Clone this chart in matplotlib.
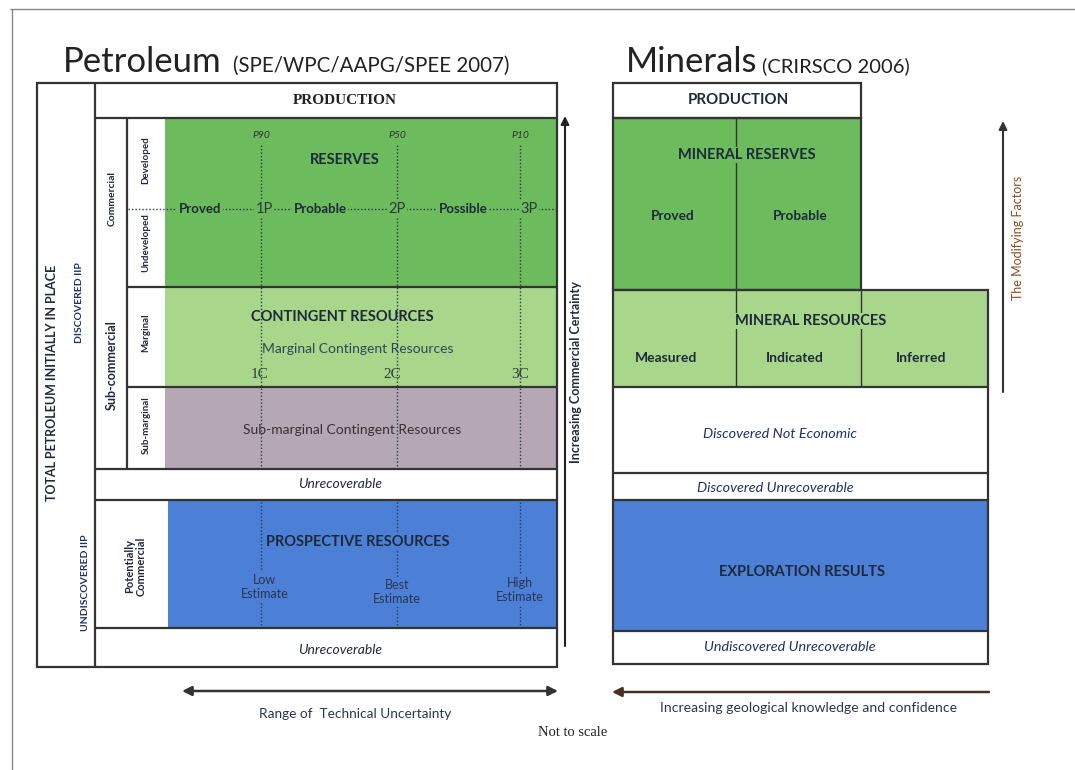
import matplotlib.pyplot as plt
from matplotlib.patches import Rectangle

# fonts: Lato is the closest installed match to the Calibri look of the scan
plt.rcParams['font.family'] = ['Lato', 'DejaVu Sans']
SERIF = ['Liberation Serif', 'DejaVu Serif']

# ---- content ----
petro_title = "Petroleum"
petro_source = "(SPE/WPC/AAPG/SPEE 2007)"
minerals_title = "Minerals"
minerals_source = "(CRIRSCO 2006)"

prob_levels = ["P90", "P50", "P10"]
reserve_classes = ["Proved", "Probable", "Possible"]
reserve_cum = ["1P", "2P", "3P"]
contingent_cum = ["1C", "2C", "3C"]
prospective_est = ["Low\nEstimate", "Best\nEstimate", "High\nEstimate"]

petro_side_labels = ["Developed", "Undeveloped", "Marginal", "Sub-marginal"]
petro_group_labels = ["Commercial", "Sub-commercial"]

mineral_reserve_cats = ["Proved", "Probable"]
mineral_resource_cats = ["Measured", "Indicated", "Inferred"]

# ---- colours ----
GREEN = "#6cbb5c"
LIGHT_GREEN = "#a8d68a"
MAUVE = "#b5a8b4"
BLUE = "#4c7fd6"
LINE = "#333333"
INK = "#1e2a3a"
NAVY = "#1f3264"

fig = plt.figure(figsize=(10.75, 7.7), dpi=100)
ax = fig.add_axes([0, 0, 1, 1])
ax.set_xlim(0, 1075)
ax.set_ylim(770, 0)
ax.axis('off')


def box(x0, y0, x1, y1, fc='none', ec='none', lw=1.6, z=1):
    ax.add_patch(Rectangle((x0, y0), x1 - x0, y1 - y0, facecolor=fc,
                           edgecolor=ec, linewidth=lw, zorder=z))


def hline(y, x0, x1, **kw):
    ax.plot([x0, x1], [y, y], color=kw.pop('color', LINE), lw=kw.pop('lw', 1.6),
            zorder=kw.pop('zorder', 4), solid_capstyle='butt', **kw)


def vline(x, y0, y1, **kw):
    ax.plot([x, x], [y0, y1], color=kw.pop('color', LINE), lw=kw.pop('lw', 1.6),
            zorder=kw.pop('zorder', 4), solid_capstyle='butt', **kw)


def label(x, y, s, size=10, mask=None, **kw):
    kw.setdefault('color', INK)
    if mask is not None:
        kw['bbox'] = dict(facecolor=mask, edgecolor='none', pad=1.0)
    ax.text(x, y, s, fontsize=size, ha=kw.pop('ha', 'center'),
            va=kw.pop('va', 'center'), zorder=5, **kw)


# page frame of the scan
hline(9, 10, 1075, color='#888888', lw=1.0)
vline(12, 9, 770, color='#888888', lw=1.0)

# ================= Petroleum =================
label(63, 62, petro_title, size=25, ha='left', color='#222222')
label(233, 66, petro_source, size=14.8, ha='left', color='#222222')

# coloured blocks
box(165, 118, 557, 287, fc=GREEN)
box(165, 287, 557, 387, fc=LIGHT_GREEN)
box(165, 387, 557, 469, fc=MAUVE)
box(168, 500, 557, 628, fc=BLUE)

# frame lines
box(37, 83, 557, 667, ec=LINE, z=4)
vline(95, 83, 667)
hline(118, 95, 557)
vline(127, 118, 469)
hline(287, 127, 557)
hline(387, 127, 557)
hline(469, 95, 557)
hline(500, 95, 557)
hline(628, 95, 557)

label(345, 101, "PRODUCTION", size=11, weight='bold', family=SERIF, color='#222222')

# vertical uncertainty guides
guide_x = [261, 397, 520]
for gx, p in zip(guide_x, prob_levels):
    label(gx, 135, p, size=7.5, style='italic', color='#333333')
    vline(gx, 145, 469, lw=1.0, ls=(0, (1, 1.5)), color='#2b3a4a', zorder=2)
    vline(gx, 502, 628, lw=1.0, ls=(0, (1, 1.5)), color='#2b3a4a', zorder=2)

label(345, 160, "RESERVES", size=10.5, weight='bold')

# proved / probable / possible line
hline(209, 128, 557, lw=1.0, ls=(0, (1, 1.5)), color='#2b3a4a', zorder=2)
cls_x = [200, 320, 463]
cum_x = [264, 397, 529]
for cx, c in zip(cls_x, reserve_classes):
    label(cx, 209, c, size=9.5, weight='bold', mask=GREEN)
for cx, c in zip(cum_x, reserve_cum):
    label(cx, 209, c, size=10.5, mask=GREEN, color='#2a3a40')

label(342, 317, "CONTINGENT RESOURCES", size=10.5, weight='bold')
label(358, 349, "Marginal Contingent Resources", size=10, color='#2a4a5a')
c_x = [260, 392, 520]
for cx, c in zip(c_x, contingent_cum):
    label(cx, 374, c, size=11, family=SERIF, color='#2a3a40')
label(352, 430, "Sub-marginal Contingent Resources", size=10, color='#3a3030')

label(340, 484, "Unrecoverable", size=10, style='italic')

label(358, 542, "PROSPECTIVE RESOURCES", size=10.5, weight='bold', mask=BLUE)
est_x = [265, 397, 520]
est_y = [587, 592, 590]
for ex, ey, e in zip(est_x, est_y, prospective_est):
    label(ex, ey, e, size=9, mask=BLUE, color='#2a3650', linespacing=1.25)

label(340, 650, "Unrecoverable", size=10, style='italic')

# side labels
label(52, 383, "TOTAL PETROLEUM INITIALLY IN PLACE", size=9, weight='bold',
      rotation=90)
label(80, 303, "DISCOVERED IIP", size=7.5, weight='bold', rotation=90, color=NAVY)
label(86, 583, "UNDISCOVERED IIP", size=7.5, weight='bold', rotation=90, color=NAVY)
label(112, 198, petro_group_labels[0], size=7.5, rotation=90, weight='bold')
label(112, 365, petro_group_labels[1], size=9, rotation=90, weight='bold')
side_y = [160, 243, 333, 425]
for sy, s in zip(side_y, petro_side_labels):
    label(146, sy, s, size=7, rotation=90, weight='bold')
label(135, 566, "Potentially\nCommercial", size=8, rotation=90, weight='bold',
      linespacing=1.05)

# arrows
ax.annotate('', xy=(565, 116), xytext=(565, 646),
            arrowprops=dict(arrowstyle='-|>', color='#222222', lw=1.5,
                            mutation_scale=12, shrinkA=0, shrinkB=0))
label(576, 372, "Increasing Commercial Certainty", size=9, weight='bold',
      rotation=90)

ax.annotate('', xy=(182, 691), xytext=(558, 691),
            arrowprops=dict(arrowstyle='<|-|>', color='#333333', lw=1.8,
                            mutation_scale=14, shrinkA=0, shrinkB=0))
label(355, 714, "Range of  Technical Uncertainty", size=9.8, color='#2a3650')
label(573, 733, "Not to scale", size=10.5, family=SERIF, color='#222222')

# ================= Minerals =================
label(626, 62, minerals_title, size=25, ha='left', color='#222222')
label(762, 66, minerals_source, size=14.5, ha='left', color='#222222')

box(613, 118, 861, 290, fc=GREEN)
box(613, 290, 988, 387, fc=LIGHT_GREEN)
box(613, 500, 988, 631, fc=BLUE)

box(613, 83, 861, 118, ec=LINE, z=4)
box(613, 118, 861, 290, ec=LINE, z=4)
box(613, 290, 988, 664, ec=LINE, z=4)
vline(736, 118, 290, lw=1.0)
vline(736, 290, 387, lw=1.0)
vline(861, 290, 387, lw=1.0)
hline(387, 613, 988)
hline(473, 613, 988)
hline(500, 613, 988)
hline(631, 613, 988)

label(738, 100, "PRODUCTION", size=10.8, weight='bold')
label(747, 155, "MINERAL RESERVES", size=10.5, weight='bold', mask=GREEN)
mr_x = [673, 800]
for mx, m in zip(mr_x, mineral_reserve_cats):
    label(mx, 216, m, size=9.8, weight='bold')
label(811, 321, "MINERAL RESOURCES", size=10.5, weight='bold', mask=LIGHT_GREEN)
mres_x = [666, 795, 921]
for mx, m in zip(mres_x, mineral_resource_cats):
    label(mx, 358, m, size=10, weight='bold')
label(780, 434, "Discovered Not Economic", size=10.4, style='italic', color=NAVY)
label(775, 488, "Discovered Unrecoverable", size=10.4, style='italic', color=NAVY)
label(802, 572, "EXPLORATION RESULTS", size=10.5, weight='bold')
label(790, 647, "Undiscovered Unrecoverable", size=10.4, style='italic', color=NAVY)

ax.annotate('', xy=(612, 692), xytext=(989, 692),
            arrowprops=dict(arrowstyle='-|>', color='#4a3020', lw=1.8,
                            mutation_scale=14, shrinkA=0, shrinkB=0))
label(808, 708, "Increasing geological knowledge and confidence", size=10.1,
      color='#2a3650')

ax.annotate('', xy=(1003, 121), xytext=(1003, 392),
            arrowprops=dict(arrowstyle='-|>', color='#333333', lw=1.5,
                            mutation_scale=12, shrinkA=0, shrinkB=0))
label(1018, 238, "The Modifying Factors", size=9, rotation=90, color='#8f4a1e')

fig.savefig('out.png', dpi=100)
